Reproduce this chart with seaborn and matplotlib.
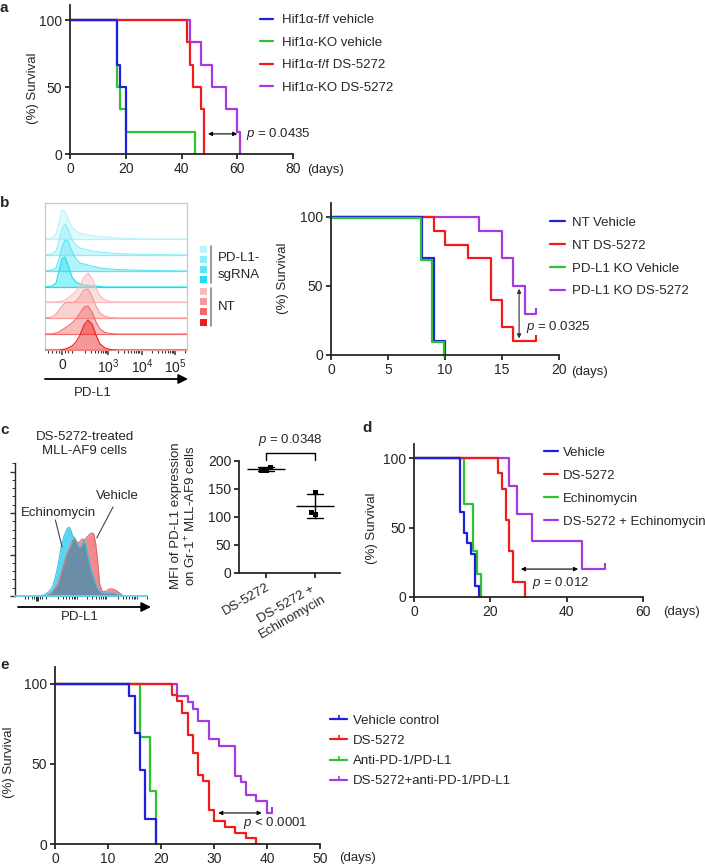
import numpy as np
import pandas as pd
import seaborn as sns
from matplotlib import pyplot as plt
from matplotlib.lines import Line2D
from matplotlib.patches import Rectangle
from matplotlib.transforms import ScaledTranslation

# ---- colours ----
BLUE, GREEN, RED, PURPLE = "#1f1fe0", "#2ec22e", "#f01c1c", "#a53ae0"

# ---- panel a: Hif1a survival ----
a_labels = ["Hif1α-f/f vehicle", "Hif1α-KO vehicle", "Hif1α-f/f DS-5272", "Hif1α-KO DS-5272"]
a_ff_veh_t, a_ff_veh_s = [0, 17, 18, 20], [100, 66.7, 50, 0]
a_ko_veh_t, a_ko_veh_s = [0, 17, 18, 20, 45], [100, 50, 33.3, 16.7, 0]
a_ff_ds_t, a_ff_ds_s = [0, 42, 43, 44, 47, 48], [100, 83.3, 66.7, 50, 33.3, 0]
a_ko_ds_t, a_ko_ds_s = [0, 43, 47, 51, 56, 60, 61], [100, 83.3, 66.7, 50, 33.3, 16.7, 0]

# ---- panel b: PD-L1 ridges + survival ----
ridge_x = [45, 52, 56, 59, 62, 65, 68, 72, 76, 80, 84, 88, 92, 96, 100, 105, 110, 118, 130, 150, 187]
ridge_h = [
    [0, 1, 5, 17, 29, 28, 20, 12, 8, 6, 5, 4, 3.5, 3, 2.5, 2, 1.5, 1, 0.5, 0, 0],
    [0, 1, 4, 14, 26, 31, 26, 16, 10, 7, 6, 5, 4, 3.5, 3, 2.5, 2, 1.5, 1, 0.5, 0],
    [0, 1, 3, 12, 24, 31, 30, 20, 12, 8, 7, 6, 5, 4, 3, 2.5, 2, 1.5, 1, 0.5, 0],
    [0, 1, 4, 16, 28, 30, 22, 10, 5, 3, 2, 1.5, 1, 1, 0.5, 0, 0, 0, 0, 0, 0],
    [0, 0, 0, 0.5, 1, 2, 4, 7, 11, 17, 25, 29, 24, 14, 6, 2, 0.5, 0, 0, 0, 0],
    [0, 1, 4, 8, 12, 15, 16, 15, 17, 22, 28, 29, 22, 12, 5, 1.5, 0.5, 0, 0, 0, 0],
    [0, 0, 1, 2, 4, 6, 8, 11, 15, 21, 27, 28, 22, 12, 5, 1.5, 0.5, 0, 0, 0, 0],
    [0, 0, 0, 0, 0.5, 1, 2, 4, 8, 15, 25, 30, 26, 15, 6, 2, 0.5, 0, 0, 0, 0],
]
ridge_colors = ["#b8f4fa", "#8eeef8", "#5ce6f4", "#1ee0f0",
                "#f9bcbc", "#f69a9a", "#f26a6a", "#ee1c1c"]
b_labels = ["NT Vehicle", "NT DS-5272", "PD-L1 KO Vehicle", "PD-L1 KO DS-5272"]
b_nt_veh_t, b_nt_veh_s = [0, 8, 9, 10], [100, 70, 10, 0]
b_nt_ds_t, b_nt_ds_s = [0, 9, 10, 12, 14, 15, 16, 18], [100, 90, 80, 70, 40, 20, 10, 10]
b_ko_veh_t, b_ko_veh_s = [0, 8, 9, 10], [100, 70, 10, 0]
b_ko_ds_t, b_ko_ds_s = [0, 13, 15, 16, 17, 18], [100, 90, 70, 50, 30, 30]

# ---- panel c: histogram + MFI ----
c_x = [40, 45, 50, 54, 57, 60, 63, 66, 69, 71, 73, 75, 77, 79, 81, 83, 85, 87, 89, 91, 93, 95,
       97, 99, 101, 103, 106, 110, 113, 117, 121, 125, 128]
c_echino = [0, 1, 4, 9, 19, 32, 49, 60, 67, 69, 66, 60, 58, 55, 50, 48, 52, 56, 50, 40, 31, 24,
            18, 12, 8, 5, 3, 3, 3, 3, 2, 1, 0]
c_vehicle = [0, 0, 1, 4, 8, 12, 22, 32, 42, 46, 50, 55, 58, 54, 53, 55, 57, 56, 58, 60, 62, 63,
             62, 52, 35, 12, 4, 5, 7, 7, 5, 2, 0]
mfi_groups = ["DS-5272"] * 3 + ["DS-5272 +\nEchinomycin"] * 3
mfi_values = [189, 184, 184, 145, 105, 109]

# ---- panel d ----
d_labels = ["Vehicle", "DS-5272", "Echinomycin", "DS-5272 + Echinomycin"]
d_veh_t, d_veh_s = [0, 12, 13, 14, 15, 16, 17], [100, 61.5, 46.2, 38.5, 30.8, 7.7, 0]
d_ds_t, d_ds_s = [0, 22, 23, 24, 25, 26, 29], [100, 88.9, 77.8, 55.6, 33.3, 11.1, 0]
d_ech_t, d_ech_s = [0, 13, 15.5, 16.5, 17.5], [100, 66.7, 33.3, 16.7, 0]
d_combo_t, d_combo_s = [0, 25, 27, 31, 44, 50], [100, 80, 60, 40, 20, 20]

# ---- panel e ----
e_labels = ["Vehicle control", "DS-5272", "Anti-PD-1/PD-L1", "DS-5272+anti-PD-1/PD-L1"]
e_veh_t, e_veh_s = [0, 14, 15, 16, 17, 19], [100, 92.3, 69.2, 46.2, 15.4, 0]
e_ds_t = [0, 22, 23, 24, 25, 26, 27, 28, 29, 30, 32, 34, 36, 38]
e_ds_s = [100, 92.9, 89.3, 82.1, 67.9, 57.1, 42.9, 39.3, 21.4, 14.3, 10.7, 7.1, 3.6, 0]
e_pd_t, e_pd_s = [0, 16, 18, 19], [100, 66.7, 33.3, 0]
e_combo_t = [0, 23, 25, 26, 27, 29, 31, 34, 35, 36, 38, 40, 41]
e_combo_s = [100, 92.3, 88.5, 84.6, 76.9, 65.4, 61.5, 42.3, 38.5, 30.8, 26.9, 19.2, 19.2]

sns.set_style("ticks")
plt.rcParams["font.family"] = ["Liberation Sans", "DejaVu Sans"]
plt.rcParams["mathtext.fontset"] = "custom"
plt.rcParams["mathtext.rm"] = "Liberation Sans"
plt.rcParams["mathtext.it"] = "Liberation Sans:italic"
plt.rcParams["font.size"] = 9.5
plt.rcParams["axes.linewidth"] = 1.3

TICK_FS = 10

W, H = 705, 867
fig = plt.figure(figsize=(W / 100, H / 100), dpi=100)


def px(x0, y0, x1, y1):
    return [x0 / W, 1 - y1 / H, (x1 - x0) / W, (y1 - y0) / H]


# overlay in pixel coordinates for free text
ov = fig.add_axes([0, 0, 1, 1])
ov.set_xlim(0, W)
ov.set_ylim(H, 0)
ov.axis("off")
ov.set_zorder(10)


def surv_axes(box, xmax, ytop, xticks):
    ax = fig.add_axes(px(*box))
    ax.set_xlim(0, xmax)
    ax.set_ylim(0, ytop)
    ax.set_xticks(xticks)
    ax.set_yticks([0, 50, 100])
    sns.despine(ax=ax)
    ax.tick_params(length=3.5, width=1.3, pad=2, labelsize=TICK_FS)
    ax.patch.set_alpha(0)
    return ax


def km(ax, t, s, color, censor=False):
    sns.lineplot(x=t, y=s, ax=ax, color=color, lw=1.6, drawstyle="steps-post",
                 estimator=None, sort=False, legend=False, clip_on=False)
    if censor:
        ax.plot(t[-1], s[-1], marker=2, ms=4, mew=1.5, color=color, clip_on=False)


def km_legend(ax, labels, colors, x, yc, spacing, hl, pad, marker=None):
    handles = [Line2D([], [], color=c, lw=1.6, marker=marker, ms=3, mew=1.2) for c in colors]
    ax.legend(handles, labels, loc="center left", bbox_to_anchor=(x / W, 1 - yc / H),
              bbox_transform=fig.transFigure, frameon=False, borderpad=0, borderaxespad=0,
              handlelength=hl, handletextpad=pad, labelspacing=spacing, fontsize=9.5)


def pval(ax, x0, x1, y, tx, ty, text, vertical=False):
    if vertical:
        ax.annotate("", xy=(x0, y[0]), xytext=(x0, y[1]),
                    arrowprops=dict(arrowstyle="<|-|>", mutation_scale=6, lw=0.8,
                                    color="#333333", shrinkA=0, shrinkB=0))
    else:
        ax.annotate("", xy=(x0, y), xytext=(x1, y),
                    arrowprops=dict(arrowstyle="<|-|>", mutation_scale=6, lw=0.8,
                                    color="black", shrinkA=0, shrinkB=0))
    ax.text(tx, ty, text, ha="left", va="center", fontsize=9.5)


# ---------------- a ----------------
ax = surv_axes((70, 5, 293, 154), 80, 111.2, [0, 20, 40, 60, 80])
km(ax, a_ko_ds_t, a_ko_ds_s, PURPLE)
km(ax, a_ff_ds_t, a_ff_ds_s, RED)
km(ax, a_ko_veh_t, a_ko_veh_s, GREEN)
km(ax, a_ff_veh_t, a_ff_veh_s, BLUE)
pval(ax, 49.5, 60, 15, 63.1, 15, "$p$ = 0.0435")
km_legend(ax, a_labels, [BLUE, GREEN, RED, PURPLE], 260, 54, 0.78, 1.0, 0.68)
ov.text(325, 170, "(days)", ha="center", va="center")
ov.text(33, 88, "(%) Survival", rotation=90, ha="center", va="center")

# ---------------- b ridges ----------------
ax = fig.add_axes(px(45, 203, 187, 350))
ax.set_xlim(45, 187)
ax.set_ylim(0, 147)
baselines = [111, 95, 79, 63, 48, 32, 16, 0]
for i, (h, base, col) in enumerate(zip(ridge_h, baselines, ridge_colors)):
    top = base + np.array(h)
    ax.axhline(base, color=col, lw=0.9, zorder=i)
    ax.fill_between(ridge_x, base, top, color=col, alpha=0.45, lw=0, zorder=i)
    ax.plot(ridge_x, top, color=col, lw=0.8, zorder=i)
for sp in ax.spines.values():
    sp.set_color("#c8c8c8")
    sp.set_linewidth(0.9)
ax.spines["bottom"].set_color("#f2a0a0")
ax.set_yticks([])
ax.set_xticks([62, 108, 142, 175])
ax.set_xticklabels(["0", "$10^{3}$", "$10^{4}$", "$10^{5}$"])
minor_b = [48, 52, 56, 59, 65, 68, 72] + [d + 33 * np.log10(k) for d in (75, 108, 142, 175)
                                          for k in range(2, 10) if d + 33 * np.log10(k) < 187]
ax.set_xticks(minor_b, minor=True)
ax.tick_params(axis="x", which="major", length=3.5, width=1.1, pad=2, labelsize=TICK_FS, color="#333333")
ax.tick_params(axis="x", which="minor", length=2, width=0.8, color="#333333")
ov.annotate("", xy=(188, 379), xytext=(45, 379),
            arrowprops=dict(arrowstyle="-|>", mutation_scale=14, lw=1.3, color="black",
                            shrinkA=0, shrinkB=0))
ov.text(93, 393, "PD-L1", ha="center", va="center")
for i, (col, yc) in enumerate(zip(ridge_colors, [249, 259, 269, 279, 291, 301, 311, 322])):
    ov.add_patch(Rectangle((200, yc - 3.5), 7, 7, color=col, lw=0))
ov.plot([211, 211], [246, 283], color="#888888", lw=1.2)
ov.plot([211, 211], [288, 326], color="#888888", lw=1.2)
ov.text(218, 258, "PD-L1-", ha="left", va="center")
ov.text(218, 275, "sgRNA", ha="left", va="center")
ov.text(218, 307, "NT", ha="left", va="center")

# ---------------- b survival ----------------
ax = surv_axes((331, 203, 559, 355), 20, 110.1, [0, 5, 10, 15, 20])
km(ax, b_ko_ds_t, b_ko_ds_s, PURPLE, censor=True)
km(ax, b_nt_ds_t, b_nt_ds_s, RED, censor=True)
km(ax, b_nt_veh_t, b_nt_veh_s, BLUE)
km(ax, b_ko_veh_t, b_ko_veh_s, GREEN)
ln = ax.lines[-1]
ln.set_transform(ln.get_transform() + ScaledTranslation(-0.012, -0.012, fig.dpi_scale_trans))
pval(ax, 16.5, None, (48, 12), 17.1, 20.3, "$p$ = 0.0325", vertical=True)
km_legend(ax, b_labels, [BLUE, RED, GREEN, PURPLE], 550, 257, 0.8, 1.14, 0.53)
ov.text(590, 372, "(days)", ha="center", va="center")
ov.text(283, 278, "(%) Survival", rotation=90, ha="center", va="center")

# ---------------- c histogram ----------------
ax = fig.add_axes(px(15, 463, 147, 596))
ax.set_xlim(15, 147)
ax.set_ylim(0, 133)
overlap = np.minimum(c_echino, c_vehicle)
ax.fill_between(c_x, 0, c_vehicle, color="#f28c8c", lw=0)
ax.fill_between(c_x, 0, c_echino, color="#5ad4f0", lw=0)
ax.fill_between(c_x, 0, overlap, color="#6b8ea6", lw=0)
ax.plot(c_x, c_vehicle, color="#e06a6a", lw=0.8)
ax.plot(c_x, c_echino, color="#3cc4e6", lw=0.8)
sns.despine(ax=ax)
ax.spines["bottom"].set_color("#5fd0ea")
ax.spines["left"].set_linewidth(1.0)
ax.set_yticks([0, 41.5, 83, 124.5])
ax.set_yticks(np.arange(0, 133, 8.3), minor=True)
ax.set_yticklabels([])
ax.set_xticks([38])
ax.set_xticklabels([])
minor_c = [38 + (m - 62) * 0.93 for m in minor_b]
ax.set_xticks(minor_c, minor=True)
ax.tick_params(which="major", length=3.5, width=1.0, color="#333333")
ax.tick_params(axis="x", which="major", width=2.2)
ax.tick_params(which="minor", length=2, width=0.7, color="#333333")
ax.text(60, 83, "Echinomycin", ha="center", va="center", fontsize=9.5)
ax.text(122, 100, "Vehicle", ha="center", va="center", fontsize=9.5)
ax.plot([57, 64], [76, 49], color="#444444", lw=0.8)
ax.plot([117, 100], [89, 58], color="#444444", lw=0.8)
ov.text(85, 444, "DS-5272-treated\nMLL-AF9 cells", ha="center", va="center", linespacing=1.15)
ov.annotate("", xy=(151, 607), xytext=(18, 607),
            arrowprops=dict(arrowstyle="-|>", mutation_scale=14, lw=1.3, color="black",
                            shrinkA=0, shrinkB=0))
ov.text(80, 617, "PD-L1", ha="center", va="center")

# ---------------- c MFI ----------------
mfi = pd.DataFrame({"group": mfi_groups, "mfi": mfi_values})
ax = fig.add_axes(px(239, 461, 340, 573))
sns.swarmplot(data=mfi, x="group", y="mfi", ax=ax, marker="s", size=3.6, color="black")
sns.pointplot(data=mfi, x="group", y="mfi", ax=ax, errorbar="sd", capsize=0.33,
              linestyle="none", marker="_", markersize=28, markeredgewidth=1.0,
              color="black", err_kws={"linewidth": 1.0})
ax.set_xlim(-0.55, 1.5)
ax.set_ylim(0, 200)
ax.set_yticks([0, 50, 100, 150, 200])
sns.despine(ax=ax)
ax.set_xlabel("")
ax.set_ylabel("")
ax.tick_params(length=3.5, width=1.3, pad=2, labelsize=TICK_FS)
for lab in ax.get_xticklabels():
    lab.set_rotation(30)
    lab.set_ha("right")
    lab.set_rotation_mode("anchor")
    lab.set_multialignment("center")
    lab.set_fontsize(9.5)
ax.plot([0, 0, 1, 1], [202, 214, 214, 202], color="black", lw=1.0, clip_on=False)
ax.text(0.5, 237, "$p$ = 0.0348", ha="center", va="center", fontsize=9.5)
ov.text(184, 516, "MFI of PD-L1 expression\non Gr-1$^{+}$ MLL-AF9 cells", rotation=90,
        ha="center", va="center", linespacing=1.1)

# ---------------- d ----------------
ax = surv_axes((414, 444, 643, 597), 60, 110.1, [0, 20, 40, 60])
km(ax, d_combo_t, d_combo_s, PURPLE, censor=True)
km(ax, d_ech_t, d_ech_s, GREEN)
km(ax, d_ds_t, d_ds_s, RED)
km(ax, d_veh_t, d_veh_s, BLUE)
pval(ax, 28, 43, 20.1, 30.9, 10, "$p$ = 0.012")
km_legend(ax, d_labels, [BLUE, RED, GREEN, PURPLE], 544, 487, 0.82, 1.06, 0.4)
ov.text(681, 612, "(days)", ha="center", va="center")
ov.text(372, 528, "(%) Survival", rotation=90, ha="center", va="center")

# ---------------- e ----------------
ax = surv_axes((55, 667, 320, 844), 50, 110.6, [0, 10, 20, 30, 40, 50])
km(ax, e_combo_t, e_combo_s, PURPLE, censor=True)
km(ax, e_pd_t, e_pd_s, GREEN)
km(ax, e_ds_t, e_ds_s, RED)
km(ax, e_veh_t, e_veh_s, BLUE)
pval(ax, 30.8, 39, 19.4, 35.5, 13.1, "$p$ < 0.0001")
km_legend(ax, e_labels, [BLUE, RED, GREEN, PURPLE], 330, 751, 0.6, 1.3, 0.45, marker=2)
ov.text(357, 858, "(days)", ha="center", va="center")
ov.text(9, 762, "(%) Survival", rotation=90, ha="center", va="center")

# panel letters
for letter, x, y in [("a", 4, 8), ("b", 5, 203), ("c", 5, 430), ("d", 367, 428), ("e", 5, 665)]:
    ov.text(x, y, letter, ha="center", va="center", fontsize=11, fontweight="bold")

fig.savefig("out.png", dpi=100)
